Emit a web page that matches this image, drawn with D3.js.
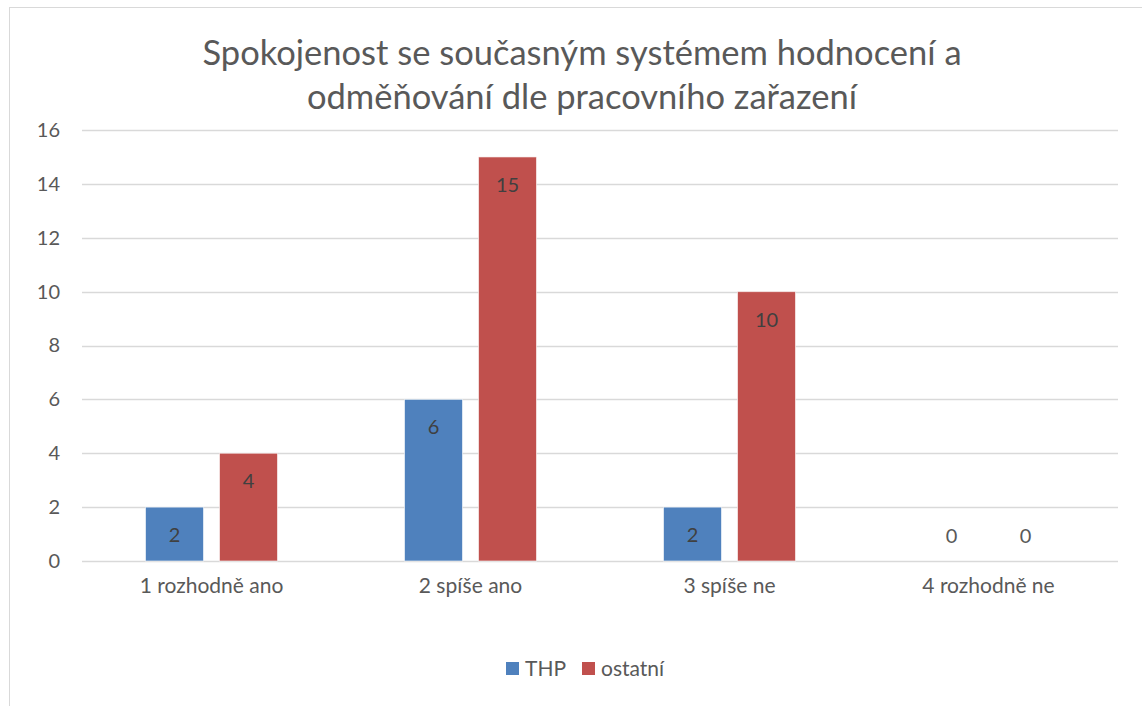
<!DOCTYPE html>
<html>
<head>
<meta charset="utf-8">
<script src="https://cdn.jsdelivr.net/npm/d3@7"></script>
<style>
  body { margin: 0; background: #fff; }
  text { font-family: Lato, "Open Sans", sans-serif; fill: #595959; }
</style>
</head>
<body>
<svg width="1142" height="706"></svg>
<script>
var categories = ["1 rozhodně ano", "2 spíše ano", "3 spíše ne", "4 rozhodně ne"];
var seriesNames = ["THP", "ostatní"];
var thp = [2, 6, 2, 0];
var ostatni = [4, 15, 10, 0];
var yTicks = [0, 2, 4, 6, 8, 10, 12, 14, 16];
var colors = ["#4F81BD", "#C0504D"];
var titleLines = ["Spokojenost se současným systémem hodnocení a", "odměňování dle pracovního zařazení"];

var svg = d3.select("svg");

// chart frame (clipped on the right/bottom like the screenshot)
svg.append("rect")
  .attr("x", 9.5).attr("y", 7.5)
  .attr("width", 1160).attr("height", 720)
  .attr("fill", "none").attr("stroke", "#d9d9d9");

var x = d3.scaleBand().domain(categories).range([82, 1118]);
var xSub = d3.scaleBand().domain(seriesNames).range([-66, 66]).paddingInner(0.2162);
var y = d3.scaleLinear().domain([0, 16]).range([561, 130]);

// title
svg.append("g").selectAll("text")
  .data(titleLines)
  .enter().append("text")
  .attr("x", 582)
  .attr("y", (d, i) => 65 + i * 44)
  .attr("text-anchor", "middle")
  .style("font-size", "34.5px")
  .text(d => d);

// gridlines
svg.append("g").selectAll("line")
  .data(yTicks)
  .enter().append("line")
  .attr("x1", 82).attr("x2", 1118)
  .attr("y1", d => Math.round(y(d)) + 0.5)
  .attr("y2", d => Math.round(y(d)) + 0.5)
  .attr("stroke", "#d9d9d9").attr("stroke-width", 1.3);

// y axis labels
var yAxis = svg.append("g")
  .attr("transform", "translate(60,0)")
  .call(d3.axisLeft(y).tickValues(yTicks).tickSize(0).tickPadding(0));
yAxis.select(".domain").remove();
yAxis.selectAll("text").style("font-size", "20px").attr("fill", "#595959");

// x axis labels
var xAxis = svg.append("g")
  .attr("transform", "translate(0,578)")
  .call(d3.axisBottom(x).tickSize(0).tickPadding(0));
xAxis.select(".domain").remove();
xAxis.selectAll("text").style("font-size", "21px").attr("fill", "#595959");

var rows = categories.map((c, i) => ({cat: c, vals: [thp[i], ostatni[i]]}));

var groups = svg.append("g").selectAll("g")
  .data(rows)
  .enter().append("g")
  .attr("transform", d => "translate(" + (x(d.cat) + x.bandwidth() / 2) + ",0)");

groups.selectAll("rect")
  .data(d => d.vals.map((v, j) => ({key: seriesNames[j], v: v, j: j})))
  .enter().append("rect")
  .attr("x", d => xSub(d.key))
  .attr("y", d => y(d.v))
  .attr("width", xSub.bandwidth())
  .attr("height", d => y(0) - y(d.v))
  .attr("fill", d => colors[d.j])
  .attr("stroke", d => d.v > 0 ? "#fff" : "none")
  .attr("stroke-opacity", 0.6)
  .attr("stroke-width", 1);

groups.selectAll(".lbl")
  .data(d => d.vals.map((v, j) => ({key: seriesNames[j], v: v, j: j})))
  .enter().append("text")
  .attr("class", "lbl")
  .attr("x", d => xSub(d.key) + xSub.bandwidth() / 2)
  .attr("y", d => d.v > 0 ? y(d.v) + 35 : y(0) - 18)
  .attr("text-anchor", "middle")
  .style("font-size", "20px")
  .style("fill", d => d.v > 0 ? "#404040" : "#595959")
  .text(d => d.v);

// legend
var legend = svg.append("g");
var legendItems = [{name: "THP", x: 506}, {name: "ostatní", x: 582}];
legendItems.forEach((d, i) => {
  legend.append("rect")
    .attr("x", d.x).attr("y", 662)
    .attr("width", 13).attr("height", 13)
    .attr("fill", colors[i]);
  legend.append("text")
    .attr("x", d.x + 19).attr("y", 676)
    .style("font-size", "21px")
    .text(d.name);
});
</script>
</body>
</html>
